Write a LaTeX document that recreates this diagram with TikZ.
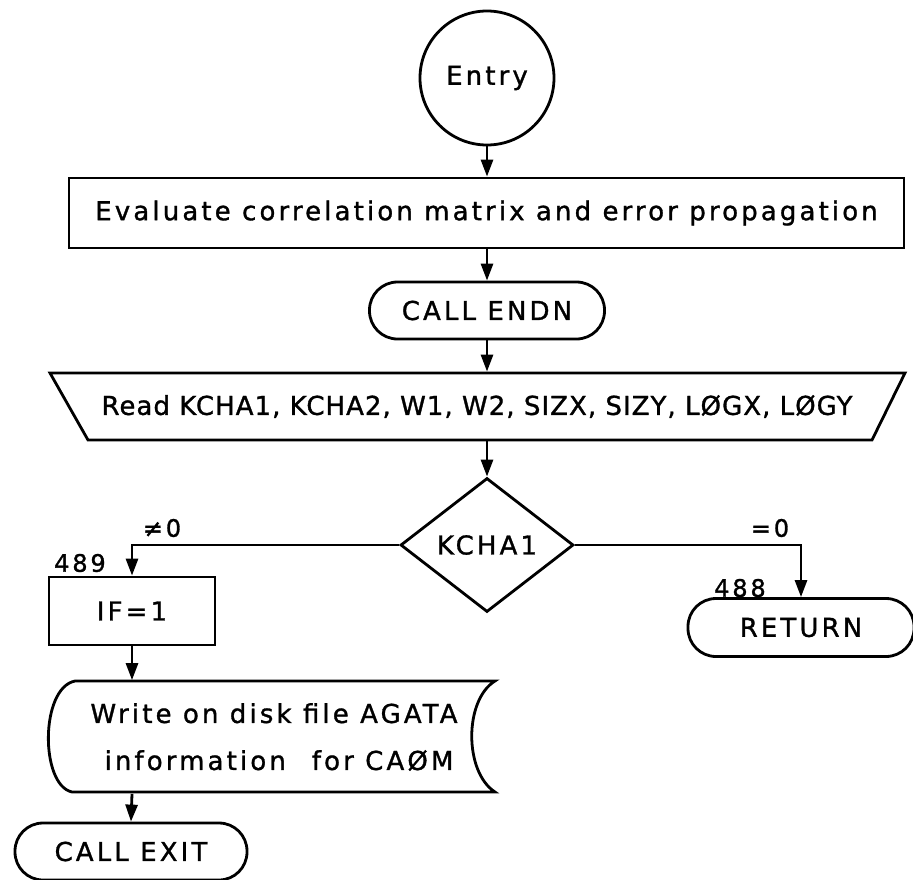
\documentclass[tikz,border=0pt]{standalone}
\usepackage{fontspec}
\setmainfont{DejaVu Sans}[LetterSpace=12,FakeBold=1.2]
\newfontfamily\narrowfont{DejaVu Sans}[LetterSpace=4,FakeBold=1.2]
\usetikzlibrary{arrows.meta,shapes.geometric}
\begin{document}
\begin{tikzpicture}[x=1pt,y=-1pt, line width=2.8pt,
  every node/.style={font=\fontsize{26}{30}\selectfont, inner sep=0pt},
  box/.style={draw, rectangle},
  term/.style={draw, rectangle, rounded corners=28pt},
  arr/.style={-{Triangle[length=17pt,width=12pt]}},
  lab/.style={font=\fontsize{24}{28}\selectfont}]
\useasboundingbox (0,0) rectangle (913,879);
\clip (0,0) rectangle (913,879);
\fill[white] (0,0) rectangle (913,879);
% nodes
\node[circle,draw,minimum size=134pt] (entry) at (487,78) {Entry};
\node[box,minimum width=835pt,minimum height=70pt] (eval) at (486.5,213) {Evaluate correlation matrix and error propagation};
\node[term,minimum width=235pt,minimum height=57pt] (endn) at (487,310.5) {CALL ENDN};
\node[minimum width=780pt,minimum height=67pt,font=\narrowfont\fontsize{26}{30}\selectfont] (read) at (477,406.5) {Read KCHA1, KCHA2, W1, W2, SIZX, SIZY, LØGX, LØGY};
\draw (50,373) -- (905,373) -- (872,440) -- (88,440) -- cycle;
\node[diamond,draw,aspect=1.29,minimum width=173pt,minimum height=134pt] (dec) at (487,545) {KCHA1};
\node[box,minimum width=166pt,minimum height=68pt] (ifb) at (132,611) {IF=1};
\node[term,minimum width=226pt,minimum height=58pt] (ret) at (801,627.5) {RETURN};
\node[align=center,minimum height=111pt,font=\fontsize{26}{47}\selectfont] (disk) at (274,737) {Write on disk file AGATA\\\hspace*{10pt}information\quad for CAØM};
\draw (75,681) -- (495,681) .. controls (464,700) and (464,772) .. (495,792) -- (72,792) .. controls (40,785) and (40,688) .. (75,681) -- cycle;
\node[term,minimum width=232pt,minimum height=57pt] (exit) at (131,851.5) {CALL EXIT};
% labels
\node[lab] (ne) at (162,528) {≠0};
\node[lab] (eq) at (770,528) {=0};
\node[lab] (l489) at (80,563) {489};
\node[lab] (l488) at (740,588) {488};
% connectors
\draw[arr] (entry.south) -- (entry.south |- eval.north);
\draw[arr] (eval.south -| endn.north) -- (endn.north);
\draw[arr] (endn.south) -- (endn.south |- read.north);
\draw[arr] (endn.south |- read.south) -- (dec.north);
\draw[arr] (dec.west) -| (ifb.north);
\draw[arr] (dec.east) -| (ret.north);
\draw[arr] (ifb.south) -- (ifb.south |- disk.north);
\draw[arr] (ifb.south |- disk.south) -- (exit.north);
\end{tikzpicture}
\end{document}
